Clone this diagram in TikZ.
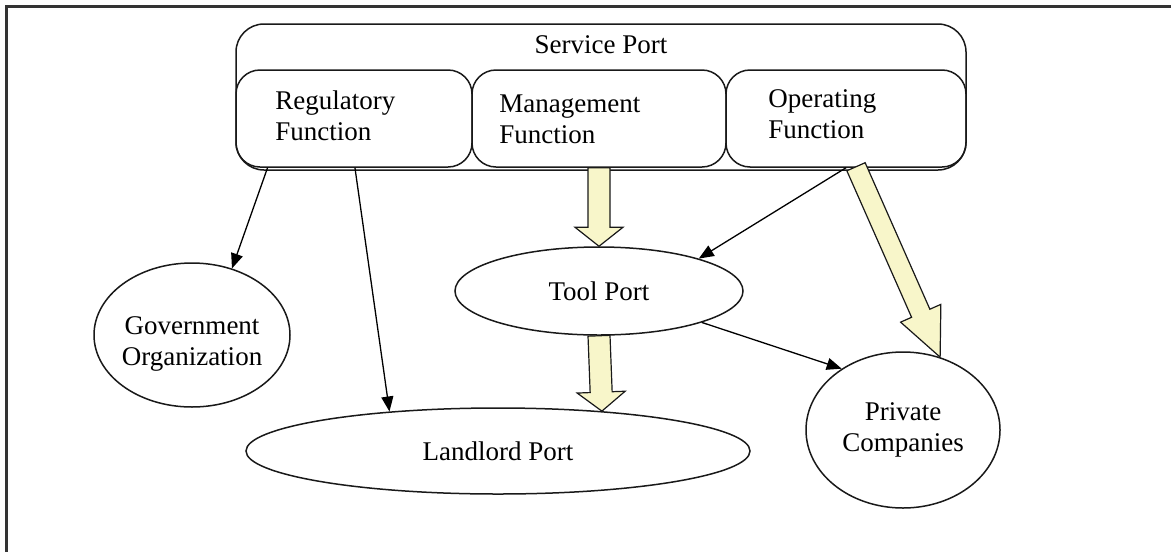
\documentclass[tikz,border=0pt]{standalone}
\usepackage{fontspec}
\setmainfont{Liberation Serif}
\usetikzlibrary{shapes.geometric,arrows.meta,calc}
\definecolor{fatfill}{HTML}{F8F6CA}
\definecolor{framegray}{HTML}{333333}
% Broad hollow arrow from #1 to #2; #3 names its helper point,
% #4 head length, #5 half head width, #6 half shaft width
\newcommand\fatarrow[6]{%
  \coordinate (#3) at ($(#2)!#4!(#1)$);
  \draw[fat] ($(#1)!#6!90:(#2)$) -- ($(#3)!#6!-90:(#1)$) -- ($(#3)!#5!-90:(#1)$)
    -- (#2) -- ($(#3)!#5!90:(#1)$) -- ($(#3)!#6!90:(#1)$) -- ($(#1)!#6!-90:(#2)$) -- cycle;
}
\begin{document}
\begin{tikzpicture}[x=0.5pt,y=-0.5pt,
  box/.style={draw=black!90, line width=0.75pt, rounded corners=12pt, inner sep=0pt},
  lbl/.style={font=\fontsize{13.5}{15.5}\selectfont, align=left, inner sep=0pt},
  oval/.style={ellipse, draw=black!90, line width=0.75pt, inner sep=0pt, align=center,
    font=\fontsize{13.5}{15.5}\selectfont},
  link/.style={-{Triangle[length=7.5pt,width=6pt]}, line width=0.65pt},
  fat/.style={draw=black!90, fill=fatfill, line width=0.6pt, line join=miter}]
\useasboundingbox (0,0) rectangle (1171,552);
% frame
\coordinate (ftr) at (1171,6.5);
\coordinate (ftl) at (6.5,6.5);
\coordinate (fbl) at (6.5,552);
\draw[framegray, line width=1.25pt] (ftr) -- (ftl) -- (fbl);

% service port with its three functions
\node[box, rounded corners=14pt, minimum width=365pt, minimum height=73pt] (sp) at (601,97) {};
\node[box, minimum width=118pt, minimum height=48.5pt] (reg) at (354,118.5) {};
\node[box, minimum width=127pt, minimum height=48.5pt] (mgmt) at (599,118.5) {};
\node[box, minimum width=120pt, minimum height=48.5pt] (oper) at (846,118.5) {};
\node[lbl] (sptext) at (601,45) {Service Port};
\node[lbl, anchor=west] (regtext) at (275,116) {Regulatory\\Function};
\node[lbl, anchor=west] (mgmttext) at (499,119) {Management\\Function};
\node[lbl, anchor=west] (opertext) at (768,114) {Operating\\Function};

% port types
\node[oval, minimum width=98pt, minimum height=72pt] (gov) at (192,335) {};
\node[lbl, align=center] (govtext) at (192,344) {Government\\Organization};
\node[oval, minimum width=144pt, minimum height=44pt] (tool) at (599,291) {Tool Port};
\node[oval, minimum width=252pt, minimum height=43pt] (land) at (498,451) {Landlord Port};
\node[oval, minimum width=97pt, minimum height=78pt] (priv) at (903,430) {Private\\Companies};

% thin links
\coordinate (regA) at ($(reg.south west)!0.136!(reg.south east)$);
\coordinate (regB) at ($(reg.south west)!0.504!(reg.south east)$);
\draw[link] (regA) -- (gov.59);
\draw[link] (regB) -- (land.160);
\draw[link] (oper.south) -- (tool.18);
\draw[link] (tool.-17) -- (priv.135);

% broad arrows
\coordinate (opfat) at ($(oper.south)+(10,-1)$);
\fatarrow{mgmt.south}{tool.north}{h1}{9.5pt}{12pt}{5.5pt}
\fatarrow{tool.south}{land.21.4}{h2}{9.5pt}{12pt}{5.5pt}
\fatarrow{opfat}{priv.63}{h3}{24pt}{11pt}{5pt}
\end{tikzpicture}
\end{document}
